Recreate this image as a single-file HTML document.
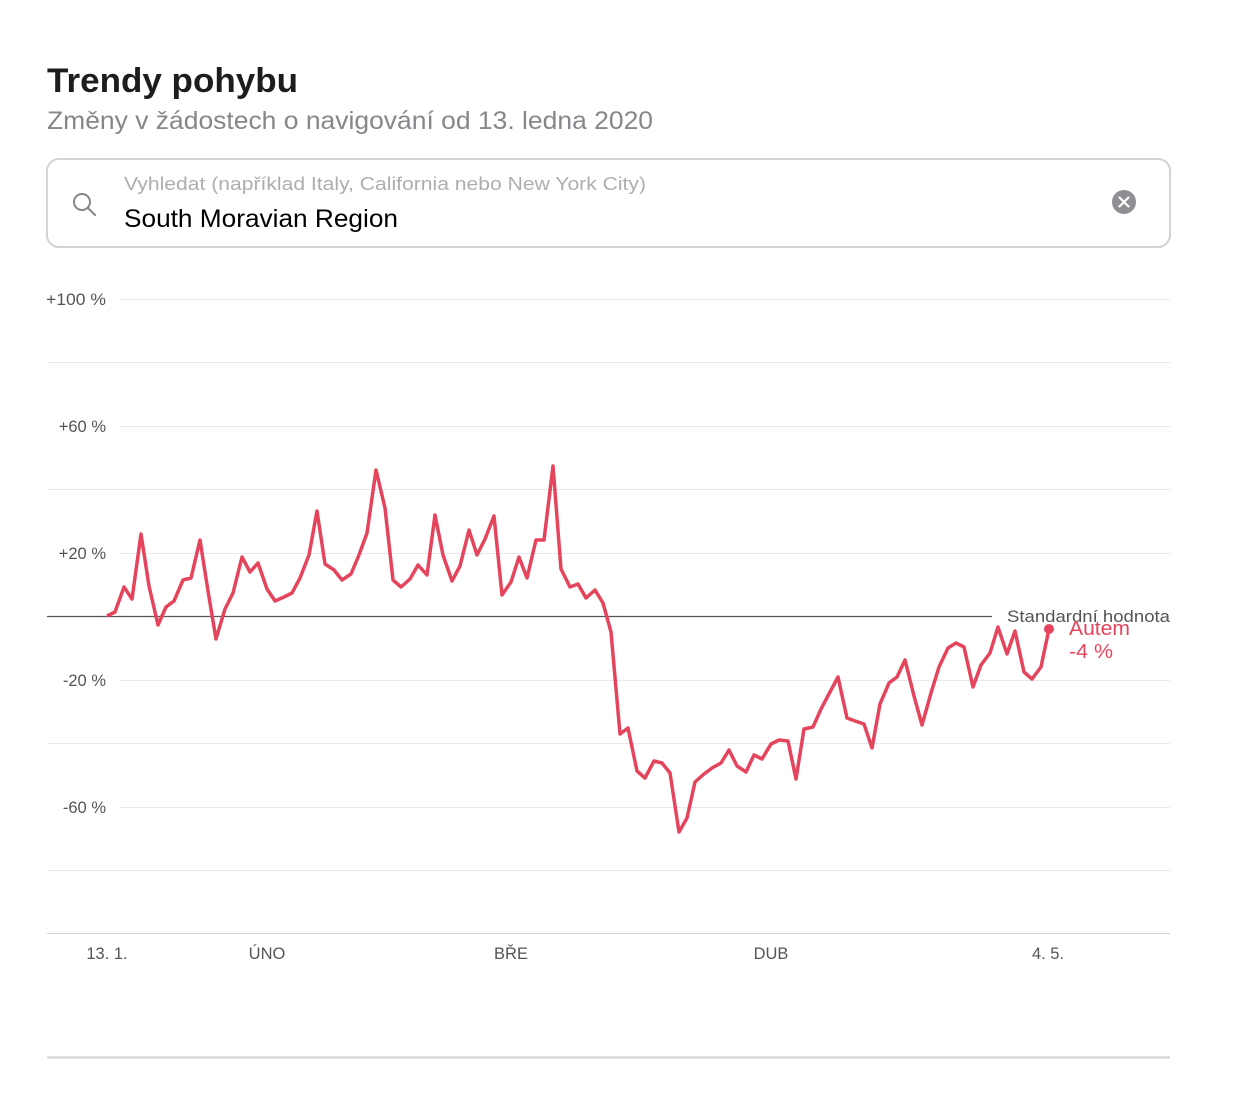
<!DOCTYPE html>
<html><head><meta charset="utf-8"><style>html,body{margin:0;padding:0;background:#fff}svg{display:block}</style></head>
<body>
<svg width="1236" height="1112" viewBox="0 0 1236 1112" xmlns="http://www.w3.org/2000/svg" font-family="Liberation Sans, DejaVu Sans, sans-serif">
<text x="47" y="92" font-size="34" font-weight="bold" fill="#1d1d1f" textLength="251" lengthAdjust="spacingAndGlyphs">Trendy pohybu</text>
<text x="47" y="129" font-size="25" fill="#86868b" textLength="606" lengthAdjust="spacingAndGlyphs">Změny v žádostech o navigování od 13. ledna 2020</text>
<rect x="47" y="159" width="1123" height="88" rx="12" fill="#fff" stroke="#d2d2d7" stroke-width="2"/>
<circle cx="82" cy="202" r="8" fill="none" stroke="#86868b" stroke-width="2"/>
<line x1="88" y1="208" x2="95" y2="215" stroke="#86868b" stroke-width="2" stroke-linecap="round"/>
<text x="124" y="190" font-size="18" fill="#aeaeb2" textLength="522" lengthAdjust="spacingAndGlyphs">Vyhledat (například Italy, California nebo New York City)</text>
<text x="124" y="227" font-size="25" fill="#000" textLength="274" lengthAdjust="spacingAndGlyphs">South Moravian Region</text>
<circle cx="1124" cy="202" r="12" fill="#8e8e93"/>
<path d="M1119.5 197.5L1128.5 206.5M1128.5 197.5L1119.5 206.5" stroke="#fff" stroke-width="2.2" stroke-linecap="round"/>
<g stroke="#e8e8ed" stroke-width="1">
<line x1="120" y1="299.5" x2="1170" y2="299.5"/>
<line x1="47" y1="362.5" x2="1170" y2="362.5"/>
<line x1="120" y1="426.5" x2="1170" y2="426.5"/>
<line x1="47" y1="489.5" x2="1170" y2="489.5"/>
<line x1="120" y1="553.5" x2="1170" y2="553.5"/>
<line x1="120" y1="680.5" x2="1170" y2="680.5"/>
<line x1="47" y1="743.5" x2="1170" y2="743.5"/>
<line x1="120" y1="807.5" x2="1170" y2="807.5"/>
<line x1="47" y1="870.5" x2="1170" y2="870.5"/>
</g>
<line x1="47" y1="933.5" x2="1170" y2="933.5" stroke="#d2d2d7" stroke-width="1"/>
<line x1="47" y1="1057.5" x2="1170" y2="1057.5" stroke="#d2d2d7" stroke-width="2"/>
<line x1="47" y1="616.5" x2="992" y2="616.5" stroke="#555" stroke-width="1.2"/>
<g font-size="16.5" fill="#555" text-anchor="end">
<text x="106" y="305" textLength="60" lengthAdjust="spacingAndGlyphs">+100 %</text>
<text x="106" y="432">+60 %</text>
<text x="106" y="559">+20 %</text>
<text x="106" y="686">-20 %</text>
<text x="106" y="813">-60 %</text>
</g>
<g font-size="16.5" fill="#555" text-anchor="middle">
<text x="107" y="959">13. 1.</text>
<text x="267" y="959">ÚNO</text>
<text x="511" y="959">BŘE</text>
<text x="771" y="959">DUB</text>
<text x="1048" y="959">4. 5.</text>
</g>
<text x="1007" y="622" font-size="17" fill="#555" textLength="163" lengthAdjust="spacingAndGlyphs">Standardní hodnota</text>
<polyline fill="none" stroke="#e5455c" stroke-width="3.5" stroke-linejoin="round" points="107,616 115,612 124,587 132,599 141,534 149,586 158,625 166,607 174,601 183,580 191,578 200,540 208,591 216,639 225,609 233,593 242,557 250,572 258,563 267,589 275,601 284,597 292,593 300,578 309,555 317,511 325,564 334,570 342,580 351,574 359,555 367,533 376,470 385,508 393,580 401,587 410,579 418,565 427,575 435,515 443,555 452,581 460,566 469,530 477,555 485,539 494,516 502,595 511,582 519,557 527,578 536,540 544,540 553,466 561,569 570,587 578,584 586,598 595,590 603,603 611,632 620,734 628,728 637,771 645,778 654,761 662,763 670,773 679,832 687,818 695,782 704,774 712,768 721,763 729,750 737,766 746,772 754,755 762,759 771,744 779,740 788,741 796,779 804,729 813,727 821,709 830,692 838,677 847,718 855,721 864,724 872,748 880,704 889,683 897,677 905,660 914,696 922,725 931,693 939,667 948,648 956,643 964,647 973,687 981,665 990,653 998,627 1007,654 1015,631 1024,672 1032,679 1041,667 1049,629"/>
<circle cx="1049" cy="629" r="5" fill="#e5455c"/>
<text x="1069" y="635" font-size="20" fill="#e5455c" textLength="61" lengthAdjust="spacingAndGlyphs">Autem</text>
<text x="1069" y="658" font-size="20" fill="#e5455c" textLength="44" lengthAdjust="spacingAndGlyphs">-4 %</text>
</svg>
</body></html>
